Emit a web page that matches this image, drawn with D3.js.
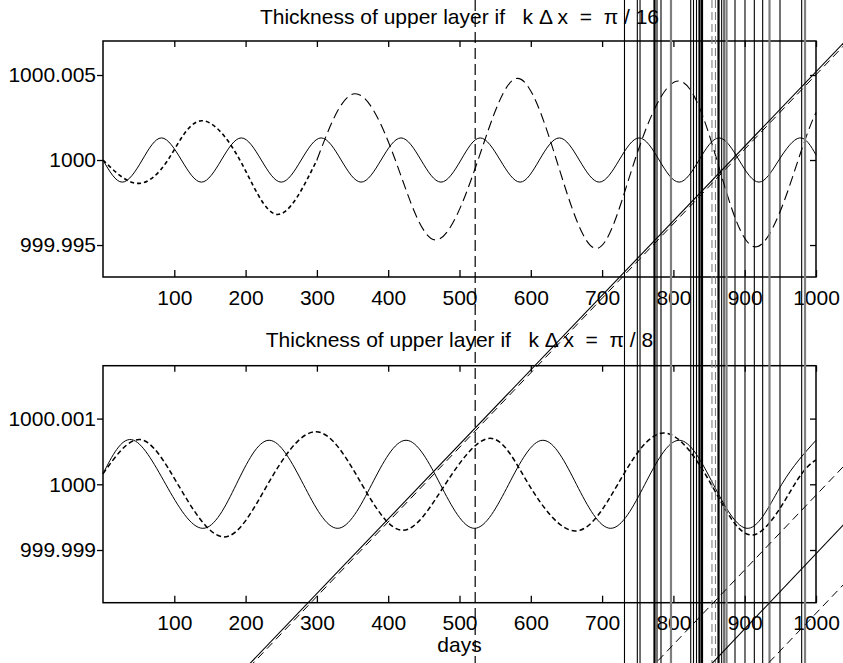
<!DOCTYPE html>
<html><head><meta charset="utf-8">
<script src="https://cdn.jsdelivr.net/npm/d3@7"></script>
<style>
html,body{margin:0;padding:0;background:#fff;}
svg{display:block;font-family:"Liberation Sans",Arial,Helvetica,sans-serif;}
</style>
</head><body>
<svg id="c" width="843" height="663"></svg>
<script>
// ---------------- data ----------------
const xTicks = [100,200,300,400,500,600,700,800,900,1000];
const topYTicks = [999.995, 1000, 1000.005];
const topYLabels = ["999.995", "1000", "1000.005"];
const botYTicks = [999.999, 1000, 1000.001];
const botYLabels = ["999.999", "1000", "1000.001"];
const topTitle = "Thickness of upper layer if   k \u0394 x  =  \u03C0 / 16";
const botTitle = "Thickness of upper layer if   k \u0394 x  =  \u03C0 / 8";
const xLabel = "days";

// upper panel, k dx = pi/16
const topSolidDays = [0,27,55,82,110,138,166,194,222,250,278,306,334,362,390,418,446,474,502,529,557,585,612,640,668,696,724,752,780,808,836,864,892,920,948,977,1000];
const topSolidVals = [1000,999.9987,1000,1000.0013,1000,999.9987,1000,1000.0013,1000,999.9987,1000,1000.0013,1000,999.9987,1000,1000.0013,1000,999.9987,1000,1000.0013,1000,999.9987,1000,1000.0013,1000,999.9987,1000,1000.0013,1000,999.9987,1000,1000.0013,1000,999.9987,1000,1000.0013,1000.0003];
const topDashDays = [0,47,91,136,192,244,300,353,410,466,526,581,636,692,746,807,861,917,975,1000];
const topDashVals = [1000,999.99863,1000,1000.0023,1000,999.9968,1000,1000.0039,1000,999.9953,1000,1000.0048,1000,999.9948,1000,1000.00465,1000,999.9949,1000,1000.0028];

// lower panel, k dx = pi/8
const botSolidDays = [0,40,88,140,187,233,281,329,377,425,473,521,569,617,664,712,760,808,856,905,952,1000];
const botSolidVals = [1000.00016,1000.00068,1000,999.99933,1000,1000.00067,1000,999.99933,1000,1000.00067,1000,999.99933,1000,1000.00067,1000,999.99933,1000,1000.00067,1000,999.99933,1000,1000.00067];
const botDashDays = [0,52,105,169,231,299,363,421,480,543,597,662,722,786,853,912,970,1000];
const botDashVals = [1000.00016,1000.00068,1000,999.9992,1000,1000.0008,1000,999.9993,1000,1000.0007,1000,999.99929,1000,1000.00078,1000,999.99923,1000,1000.00037];

// stray rules crossing the figure (days)
const markerDay = [522];
const thinRuleDays = [731.4,749.4,753.2,777,782.6,824.3,828.2,832.4,867.7,871,886.4,900.4,913.5,925.2,949.5,979.9];
const thickRuleDays = [773.5,836.6,840.1,863.3];
const grayRuleDays = [796.6,874.5,934.8,984.6];
const grayDashRuleDays = [854.1,859];
// stray diagonal segments, in lower-panel data units [day, value]
const diagSolid = [
  [[192.1,999.997114],[1047.7,1000.006820]],
  [[844.3,999.997161],[1047.7,999.999490]]
];
const diagDashed = [
  [[192.1,999.997069],[1047.7,1000.006775]],
  [[753.2,999.997029],[1047.7,1000.000376]],
  [[921.5,999.997145],[1047.7,999.998578]]
];

// ---------------- drawing ----------------
const W = 843, H = 663;
const svg = d3.select("#c");
svg.append("rect").attr("width",W).attr("height",H).attr("fill","#fff");

const x = d3.scaleLinear().domain([0,1000]).range([103,816]);
const yTop = d3.scaleLinear().domain([999.99312,1000.0070]).range([277,41]);
const yBot = d3.scaleLinear().domain([999.998198,1000.001805]).range([602.7,365.7]);
const FS = 21;

function panel(y, yTicks, yLabels, title, titleY, labelPad) {
  const g = svg.append("g");
  const [y0,y1] = y.range();
  // bottom axis
  const ax = g.append("g").attr("transform",`translate(0,${y0})`)
    .call(d3.axisBottom(x).tickValues(xTicks).tickSizeInner(-7).tickSizeOuter(0).tickPadding(labelPad).tickFormat(d3.format("d")));
  // top axis
  g.append("g").attr("transform",`translate(0,${y1})`)
    .call(d3.axisTop(x).tickValues(xTicks).tickSizeInner(-6).tickSizeOuter(0).tickFormat(""));
  // left axis
  g.append("g").attr("transform",`translate(${x.range()[0]},0)`)
    .call(d3.axisLeft(y).tickValues(yTicks).tickSizeInner(6).tickSizeOuter(0).tickPadding(1).tickFormat((d,i)=>yLabels[i]));
  // right axis
  g.append("g").attr("transform",`translate(${x.range()[1]},0)`)
    .call(d3.axisRight(y).tickValues(yTicks).tickSizeInner(-6).tickSizeOuter(0).tickFormat(""));
  g.selectAll(".domain").remove();
  g.selectAll(".tick line").attr("stroke","#000").attr("stroke-width",1.3);
  g.selectAll(".tick text").attr("font-size",FS).attr("fill","#000")
    .attr("font-family",'"Liberation Sans",Arial,Helvetica,sans-serif');
  g.append("rect").attr("x",x.range()[0]).attr("y",y1)
    .attr("width",x.range()[1]-x.range()[0]).attr("height",y0-y1)
    .attr("fill","none").attr("stroke","#000").attr("stroke-width",1.5);
  svg.append("text").attr("x",(x.range()[0]+x.range()[1])/2).attr("y",titleY)
    .attr("text-anchor","middle").attr("font-size",FS).style("white-space","pre")
    .attr("fill","#000").text(title);
}

function curve(y, days, vals, dash, width) {
  const pts = days.map((d,i)=>[d,vals[i]]);
  const line = d3.line().x(d=>x(d[0])).y(d=>y(d[1])).curve(d3.curveNatural);
  svg.append("path").attr("d",line(pts)).attr("fill","none").attr("stroke","#000")
    .attr("stroke-width",width).attr("stroke-dasharray",dash);
}

panel(yTop, topYTicks, topYLabels, topTitle, 23.5, 13);
panel(yBot, botYTicks, botYLabels, botTitle, 347, 12);

curve(yTop, topSolidDays, topSolidVals, null, 1);
const splitIdx = topDashDays.indexOf(300);
curve(yTop, topDashDays.slice(0,splitIdx+1), topDashVals.slice(0,splitIdx+1), "4,3", 1.6);
curve(yTop, topDashDays.slice(splitIdx), topDashVals.slice(splitIdx), "10,5", 1.1);
curve(yBot, botSolidDays, botSolidVals, null, 1);
curve(yBot, botDashDays, botDashVals, "5,3", 1.5);

svg.append("text").attr("x",(x.range()[0]+x.range()[1])/2).attr("y",652)
  .attr("text-anchor","middle").attr("font-size",FS).attr("fill","#000").text(xLabel);

// stray vertical rules
function rules(days, color, width, dash) {
  svg.append("g").selectAll("line").data(days).join("line")
    .attr("x1",d=>x(d)).attr("x2",d=>x(d)).attr("y1",0).attr("y2",H)
    .attr("stroke",color).attr("stroke-width",width).attr("stroke-dasharray",dash);
}
rules(grayRuleDays, "#7f7f7f", 2.2, null);
rules(grayDashRuleDays, "#7f7f7f", 1.1, "8,4");
rules(thinRuleDays, "#000", 1.1, null);
rules(thickRuleDays, "#000", 2.2, null);
rules(markerDay, "#000", 1.2, "11,5");

// stray diagonals
const dl = d3.line().x(d=>x(d[0])).y(d=>yBot(d[1]));
svg.append("g").selectAll("path").data(diagSolid).join("path")
  .attr("d",dl).attr("fill","none").attr("stroke","#000").attr("stroke-width",1.1);
svg.append("g").selectAll("path").data(diagDashed).join("path")
  .attr("d",dl).attr("fill","none").attr("stroke","#000").attr("stroke-width",1).attr("stroke-dasharray","8,5");
</script>
</body></html>
